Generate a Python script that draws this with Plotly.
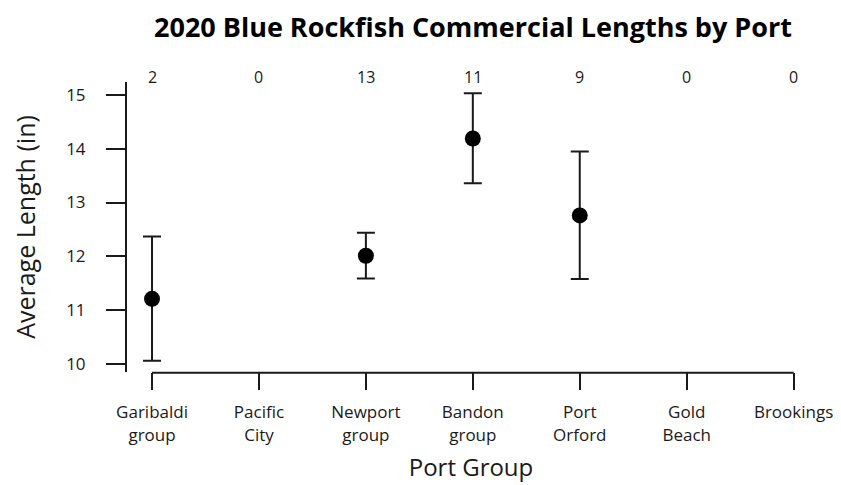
import plotly.graph_objects as go

ports = ["Garibaldi<br>group", "Pacific<br>City", "Newport<br>group", "Bandon<br>group",
         "Port<br>Orford", "Gold<br>Beach", "Brookings"]
counts = [2, 0, 13, 11, 9, 0, 0]
mean_len = [11.21, None, 12.01, 14.19, 12.76, None, None]
lower_ci = [10.06, None, 11.59, 13.36, 11.58, None, None]
upper_ci = [12.37, None, 12.44, 15.03, 13.95, None, None]
y_ticks = [10, 11, 12, 13, 14, 15]

err_plus = [(u - m) if m is not None else None for m, u in zip(mean_len, upper_ci)]
err_minus = [(m - l) if m is not None else None for m, l in zip(mean_len, lower_ci)]

FONT = "Open Sans"
INK = "#1a1a1a"
# page body has an 8px default margin, so the figure is sized/offset to compensate
W, H = 833, 477

fig = go.Figure()
fig.add_trace(go.Scatter(
    x=ports, y=mean_len, mode="markers",
    marker=dict(color="black", size=16),
    error_y=dict(type="data", array=err_plus, arrayminus=err_minus,
                 color=INK, thickness=2, width=9),
    showlegend=False, cliponaxis=False,
))

for p, c in zip(ports, counts):
    fig.add_annotation(x=p, y=1, xref="x", yref="paper", text=str(c),
                       showarrow=False, yanchor="middle", yshift=5,
                       font=dict(family=FONT, size=16, color=INK))

# x-axis baseline spanning first to last category
fig.add_shape(type="line", xref="x", yref="paper", x0=0, x1=6, y0=-0.003, y1=-0.003,
              line=dict(color=INK, width=2))

fig.update_layout(
    width=W, height=H,
    margin=dict(l=119, r=26, t=74, b=113, autoexpand=False),
    plot_bgcolor="white", paper_bgcolor="white",
    font=dict(family=FONT, color=INK),
    title=dict(text="<b>2020 Blue Rockfish Commercial Lengths by Port</b>",
               x=465/W, xanchor="center", y=1 - 20/H, yanchor="middle",
               font=dict(family=FONT, size=27, color="black")),
)
fig.update_xaxes(
    type="category", categoryorder="array", categoryarray=ports,
    range=[-0.234, 6.2], showgrid=False, showline=False, zeroline=False,
    ticks="outside", ticklen=17, tickwidth=2, tickcolor=INK, automargin=False,
    tickfont=dict(family=FONT, size=17, color=INK), ticklabelstandoff=8,
    title=dict(text="Port Group", font=dict(family=FONT, size=24, color=INK), standoff=14),
)
fig.update_yaxes(
    range=[9.85, 15.24], tickvals=y_ticks, showgrid=False, zeroline=False,
    showline=True, linecolor=INK, linewidth=2, automargin=False,
    ticks="outside", ticklen=19, tickwidth=2, tickcolor=INK,
    tickfont=dict(family=FONT, size=17, color=INK), ticklabelstandoff=17,
    title=dict(text="Average Length (in)", font=dict(family=FONT, size=25, color=INK), standoff=28),
)

fig.write_html("out.html")
